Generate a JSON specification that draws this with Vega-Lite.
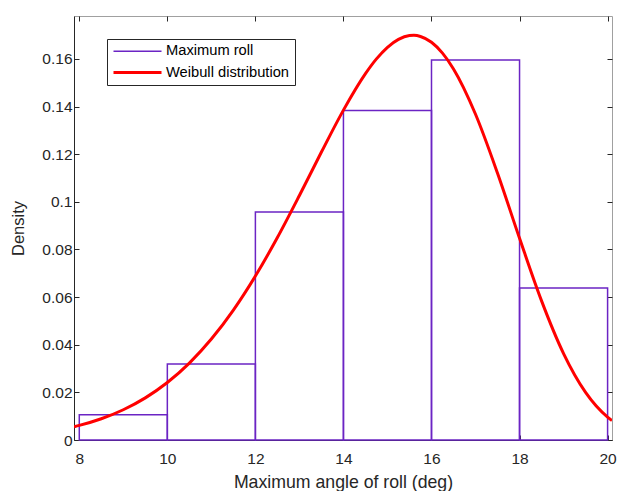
{
  "$schema": "https://vega.github.io/schema/vega-lite/v6.json",
  "width": 538,
  "height": 424,
  "autosize": {"type": "none"},
  "padding": {"left": 74, "top": 16, "right": 5, "bottom": 51},
  "background": "white",
  "datasets": {
    "hist": [
      {"bin_start": 8, "bin_end": 10, "density": 0.01064, "series": "Maximum roll"},
      {"bin_start": 10, "bin_end": 12, "density": 0.03191, "series": "Maximum roll"},
      {"bin_start": 12, "bin_end": 14, "density": 0.09574, "series": "Maximum roll"},
      {"bin_start": 14, "bin_end": 16, "density": 0.1383, "series": "Maximum roll"},
      {"bin_start": 16, "bin_end": 18, "density": 0.15957, "series": "Maximum roll"},
      {"bin_start": 18, "bin_end": 20, "density": 0.06383, "series": "Maximum roll"}
    ],
    "fit": [
      {"x": 7.88, "pdf": 0.005571, "series": "Weibull distribution"},
      {"x": 8, "pdf": 0.006121, "series": "Weibull distribution"},
      {"x": 8.5, "pdf": 0.008918, "series": "Weibull distribution"},
      {"x": 9, "pdf": 0.012692, "series": "Weibull distribution"},
      {"x": 9.5, "pdf": 0.017678, "series": "Weibull distribution"},
      {"x": 10, "pdf": 0.024125, "series": "Weibull distribution"},
      {"x": 10.5, "pdf": 0.032282, "series": "Weibull distribution"},
      {"x": 11, "pdf": 0.042373, "series": "Weibull distribution"},
      {"x": 11.5, "pdf": 0.054545, "series": "Weibull distribution"},
      {"x": 12, "pdf": 0.068819, "series": "Weibull distribution"},
      {"x": 12.5, "pdf": 0.08501, "series": "Weibull distribution"},
      {"x": 13, "pdf": 0.102645, "series": "Weibull distribution"},
      {"x": 13.5, "pdf": 0.120891, "series": "Weibull distribution"},
      {"x": 14, "pdf": 0.138491, "series": "Weibull distribution"},
      {"x": 14.5, "pdf": 0.153794, "series": "Weibull distribution"},
      {"x": 14.75, "pdf": 0.159986, "series": "Weibull distribution"},
      {"x": 15, "pdf": 0.164871, "series": "Weibull distribution"},
      {"x": 15.25, "pdf": 0.16821, "series": "Weibull distribution"},
      {"x": 15.5, "pdf": 0.169785, "series": "Weibull distribution"},
      {"x": 15.6, "pdf": 0.169878, "series": "Weibull distribution"},
      {"x": 15.75, "pdf": 0.169416, "series": "Weibull distribution"},
      {"x": 16, "pdf": 0.166977, "series": "Weibull distribution"},
      {"x": 16.25, "pdf": 0.162422, "series": "Weibull distribution"},
      {"x": 16.5, "pdf": 0.155775, "series": "Weibull distribution"},
      {"x": 17, "pdf": 0.136768, "series": "Weibull distribution"},
      {"x": 17.5, "pdf": 0.112005, "series": "Weibull distribution"},
      {"x": 18, "pdf": 0.084674, "series": "Weibull distribution"},
      {"x": 18.5, "pdf": 0.058407, "series": "Weibull distribution"},
      {"x": 19, "pdf": 0.03628, "series": "Weibull distribution"},
      {"x": 19.5, "pdf": 0.019992, "series": "Weibull distribution"},
      {"x": 20, "pdf": 0.009612, "series": "Weibull distribution"},
      {"x": 20.1, "pdf": 0.008153, "series": "Weibull distribution"}
    ]
  },
  "config": {
    "font": "Liberation Sans",
    "view": {"stroke": "#a0a0a0", "strokeWidth": 1},
    "axis": {
      "grid": false,
      "labelFont": "Liberation Sans",
      "labelFontSize": 15.5,
      "labelColor": "#262626",
      "titleFont": "Liberation Sans",
      "titleFontWeight": "normal",
      "titleColor": "#262626",
      "domainColor": "#262626",
      "tickColor": "#262626",
      "tickSize": -5,
      "domainWidth": 1,
      "tickWidth": 1
    },
    "legend": {
      "orient": "none",
      "legendX": 33,
      "legendY": 23,
      "title": null,
      "symbolType": "M-4,0H4",
      "symbolSize": 144,
      "symbolOffset": 18,
      "labelOffset": 21,
      "labelFont": "Liberation Sans",
      "labelFontSize": 14.7,
      "labelColor": "#000000",
      "strokeColor": "#262626",
      "fillColor": "white",
      "padding": 5,
      "rowPadding": 5,
      "symbolFillColor": "transparent"
    }
  },
  "layer": [
    {
      "data": {"name": "hist"},
      "mark": {"type": "bar", "filled": false},
      "encoding": {
        "x": {
          "field": "bin_start",
          "type": "quantitative",
          "scale": {"domain": [7.88, 20.1], "nice": false, "zero": false},
          "axis": {
            "orient": "bottom",
            "values": [8, 10, 12, 14, 16, 18, 20],
            "title": "Maximum angle of roll (deg)",
            "titleFontSize": 17.7,
            "labelPadding": 16,
            "titlePadding": 7
          }
        },
        "x2": {"field": "bin_end"},
        "y": {
          "field": "density",
          "type": "quantitative",
          "scale": {"domain": [0, 0.178], "nice": false},
          "axis": {
            "orient": "left",
            "values": [0, 0.02, 0.04, 0.06, 0.08, 0.1, 0.12, 0.14, 0.16],
            "format": "~g",
            "title": "Density",
            "titleFontSize": 16.5,
            "labelPadding": 7,
            "titlePadding": 15
          }
        },
        "y2": {"datum": 0},
        "color": {
          "field": "series",
          "type": "nominal",
          "scale": {"domain": ["Maximum roll", "Weibull distribution"], "range": ["#6B24C4", "#FF0000"]}
        },
        "strokeWidth": {
          "field": "series",
          "type": "nominal",
          "scale": {"domain": ["Maximum roll", "Weibull distribution"], "range": [1.5, 3]}
        }
      }
    },
    {
      "data": {"name": "fit"},
      "mark": {"type": "line", "interpolate": "monotone", "clip": true},
      "encoding": {
        "x": {
          "field": "x",
          "type": "quantitative",
          "axis": {"orient": "top", "values": [8, 10, 12, 14, 16, 18, 20], "labels": false, "domain": false, "title": null}
        },
        "y": {
          "field": "pdf",
          "type": "quantitative",
          "axis": {"orient": "right", "values": [0, 0.02, 0.04, 0.06, 0.08, 0.1, 0.12, 0.14, 0.16], "labels": false, "domain": false, "title": null}
        },
        "color": {"field": "series", "type": "nominal"},
        "strokeWidth": {"field": "series", "type": "nominal"}
      }
    }
  ],
  "resolve": {"axis": {"x": "independent", "y": "independent"}}
}
